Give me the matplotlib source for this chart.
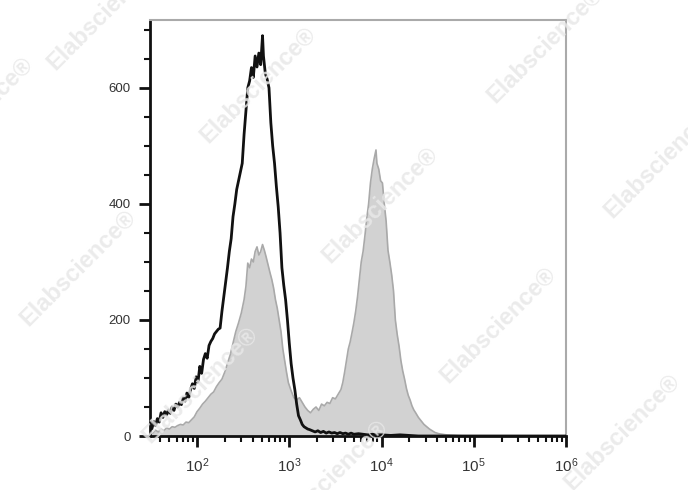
import numpy as np
import matplotlib.pyplot as plt
from matplotlib.ticker import LogLocator, MultipleLocator, NullFormatter

# black (open) histogram: log10 of fluorescence and event counts
black_logx = [1.49, 1.51, 1.53, 1.55, 1.57, 1.59, 1.61, 1.63, 1.65, 1.67, 1.69, 1.71,
              1.73, 1.75, 1.77, 1.79, 1.81, 1.83, 1.85, 1.87, 1.89, 1.91, 1.93, 1.95,
              1.97, 1.99, 2.01, 2.03, 2.05, 2.07, 2.09, 2.11, 2.13, 2.15, 2.17, 2.19,
              2.21, 2.23, 2.25, 2.27, 2.29, 2.31, 2.33, 2.35, 2.37, 2.39, 2.41, 2.43,
              2.45, 2.47, 2.49, 2.51, 2.53, 2.55, 2.57, 2.59, 2.61, 2.63, 2.65, 2.67,
              2.69, 2.71, 2.72, 2.74, 2.76, 2.78, 2.80, 2.82, 2.84, 2.86, 2.88, 2.90,
              2.92, 2.94, 2.96, 2.98, 3.00, 3.02, 3.04, 3.06, 3.08, 3.10, 3.12, 3.14,
              3.16, 3.18, 3.20, 3.22, 3.25, 3.28, 3.31, 3.34, 3.37, 3.40, 3.43, 3.46,
              3.49, 3.52, 3.55, 3.58, 3.61, 3.64, 3.67, 3.70, 3.75, 3.80, 3.85, 3.90,
              3.95, 4.00, 4.10, 4.20, 4.30, 4.40, 5.00, 6.00]
black_counts = [20, 12, 25, 18, 30, 24, 40, 32, 42, 36, 45, 39,
                50, 44, 55, 50, 58, 54, 66, 60, 74, 66, 80, 90,
                82, 102, 93, 120, 108, 132, 142, 134, 156, 163, 168, 176,
                180, 184, 186, 215, 240, 265, 290, 318, 340, 378, 400, 425,
                440, 455, 470, 520, 560, 600, 612, 635, 618, 655, 636, 660,
                640, 690, 655, 625, 615, 600, 540, 500, 470, 430, 395, 350,
                290, 260, 235, 200, 160, 125, 100, 80, 55, 35, 28, 20,
                16, 14, 12, 11, 9, 7, 9, 6, 8, 5, 7, 5,
                6, 4, 6, 4, 5, 3, 5, 3, 4, 3, 2, 3,
                2, 2, 1, 2, 1, 0, 0, 0]

# gray (filled) histogram
gray_logx = [1.49, 1.52, 1.55, 1.58, 1.61, 1.64, 1.67, 1.70, 1.73, 1.76, 1.79, 1.82,
             1.85, 1.88, 1.91, 1.94, 1.97, 2.00, 2.03, 2.06, 2.09, 2.12, 2.15, 2.18,
             2.21, 2.24, 2.27, 2.30, 2.33, 2.36, 2.39, 2.42, 2.45, 2.48, 2.51, 2.53,
             2.55, 2.57, 2.59, 2.61, 2.63, 2.65, 2.67, 2.69, 2.71, 2.73, 2.75, 2.77,
             2.79, 2.81, 2.83, 2.85, 2.87, 2.89, 2.91, 2.93, 2.95, 2.97, 2.99, 3.02,
             3.05, 3.08, 3.11, 3.14, 3.17, 3.20, 3.23, 3.26, 3.29, 3.32, 3.35, 3.38,
             3.41, 3.44, 3.47, 3.50, 3.53, 3.56, 3.58, 3.60, 3.62, 3.64, 3.66, 3.68,
             3.70, 3.72, 3.74, 3.76, 3.78, 3.80, 3.82, 3.84, 3.86, 3.88, 3.90, 3.92,
             3.94, 3.95, 3.97, 3.99, 4.01, 4.03, 4.05, 4.07, 4.09, 4.11, 4.13, 4.15,
             4.17, 4.19, 4.21, 4.23, 4.25, 4.27, 4.29, 4.31, 4.33, 4.35, 4.37, 4.40,
             4.43, 4.46, 4.49, 4.52, 4.55, 4.58, 4.62, 4.66, 4.70, 4.80, 4.90, 6.00]
gray_counts = [8, 5, 10, 7, 12, 9, 14, 12, 16, 15, 18, 20,
               19, 24, 23, 28, 33, 42, 48, 55, 60, 66, 72, 76,
               85, 92, 98, 110, 125, 140, 160, 180, 195, 212, 235, 258,
               298, 290, 305, 300, 318, 326, 312, 318, 330, 320, 308, 295,
               282, 270, 255, 235, 220, 200, 180, 150, 130, 110, 92, 78,
               66, 62, 66, 58, 50, 44, 40, 46, 50, 44, 55, 52,
               58, 56, 66, 64, 72, 80, 92, 110, 130, 150, 162, 178,
               195, 215, 240, 270, 300, 318, 345, 375, 400, 436, 460, 478,
               493, 470, 460, 440, 436, 400, 370, 320, 300, 278, 250, 200,
               175, 155, 130, 112, 98, 82, 70, 62, 52, 45, 40, 32,
               26, 20, 16, 12, 9, 6, 4, 3, 2, 1, 0, 0]

ytick_vals = [0, 200, 400, 600]

# watermark centres in pixels (x from left, y from top)
wm_x = [105, 258, 545, -25, 78, 380, 662, 498, 200, 622, 330]
wm_y = [12, 85, 45, 115, 268, 205, 160, 325, 385, 432, 478]

fig = plt.figure(figsize=(6.88, 4.90), dpi=100)
ax = fig.add_axes([150 / 688, 54 / 490, 416 / 688, 416 / 490])

gx = 10 ** np.array(gray_logx)
bx = 10 ** np.array(black_logx)
ax.fill_between(gx, gray_counts, 0, color='#d2d2d2', lw=0, zorder=1)
ax.plot(gx, gray_counts, color='#a9a9a9', lw=1.2, zorder=2)
ax.plot(bx, black_counts, color='#111111', lw=2.0, zorder=3)

ax.set_xscale('log')
ax.set_xlim(10 ** 1.49, 10 ** 6)
ax.set_ylim(0, 717)
ax.xaxis.set_minor_locator(LogLocator(base=10, subs=np.arange(2, 10), numticks=20))
ax.xaxis.set_minor_formatter(NullFormatter())
ax.set_xticks([1e2, 1e3, 1e4, 1e5, 1e6])
ax.yaxis.set_minor_locator(MultipleLocator(50))
ax.set_yticks(ytick_vals)
ax.set_yticklabels([str(v) for v in ytick_vals])

for s in ['left', 'bottom']:
    ax.spines[s].set_color('#111111')
    ax.spines[s].set_linewidth(2)
for s in ['top', 'right']:
    ax.spines[s].set_color('#aaaaaa')
    ax.spines[s].set_linewidth(1.5)

ax.tick_params(which='major', direction='out', length=8, width=2, color='#111111',
               labelcolor='#333333', top=False, right=False)
ax.tick_params(which='minor', direction='out', length=4, width=1.5, color='#111111',
               top=False, right=False)
ax.tick_params(axis='y', which='major', pad=6, labelsize=9.5)
ax.tick_params(axis='x', which='major', pad=7, labelsize=11)
for lab in ax.get_xticklabels() + ax.get_yticklabels():
    lab.set_fontfamily('Liberation Sans')

for x, y in zip(wm_x, wm_y):
    fig.text(x / 688, 1 - y / 490, 'Elabscience\u00ae', rotation=45, fontsize=17,
             fontweight='bold', color='#e8e8e8', alpha=0.85, ha='center', va='center',
             family='Liberation Sans', zorder=10)

fig.savefig('out.png', dpi=100)
